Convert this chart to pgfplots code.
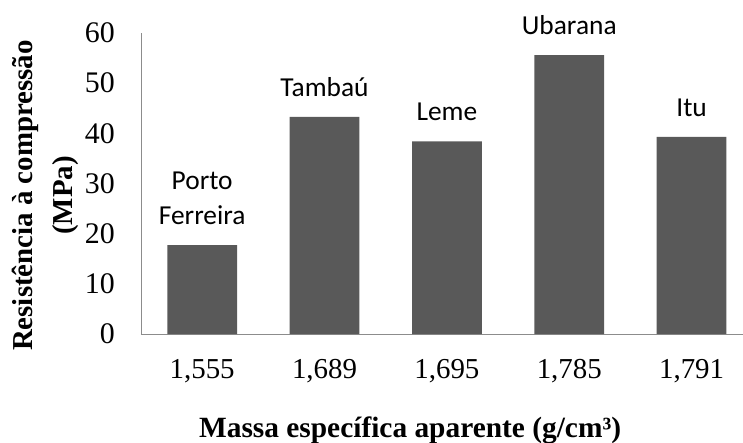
\documentclass[border=0pt]{standalone}
\usepackage{pgfplots}
\pgfplotsset{compat=1.18}
\usepackage{fontspec}
\setmainfont{Liberation Serif}
\newfontfamily\calib{Carlito}
\definecolor{barcol}{HTML}{595959}
\definecolor{axcol}{HTML}{8C8C8C}
\begin{document}
\begin{tikzpicture}
\useasboundingbox (-141bp,-109bp) rectangle (602bp,334bp);
\begin{axis}[
  at={(0,0)}, anchor=south west,
  scale only axis,
  width=602bp, height=301bp,
  xmin=-0.5, xmax=4.42,
  ymin=0, ymax=60,
  ytick={0,10,...,60},
  xtick={0,1,2,3,4},
  xticklabels={{1,555},{1,689},{1,695},{1,785},{1,791}},
  axis lines*=left,
  axis line style={draw=axcol, line width=0.8bp},
  major tick length=0pt,
  /pgf/number format/assume math mode=true,
  xticklabel style={font=\fontsize{29}{32}\selectfont, anchor=north, inner sep=0pt, yshift=-25bp},
  yticklabel style={font=\fontsize{30}{32}\selectfont, anchor=east, inner sep=0pt, xshift=-26bp},
  xlabel={Massa específica aparente (g/cm³)},
  xlabel style={font=\fontsize{29.5}{32}\selectfont\bfseries, at={(axis description cs:0.447,0)}, anchor=base, inner sep=0pt, yshift=-103bp},
  ylabel={Resistência à compressão\\(MPa)},
  ylabel style={font=\fontsize{29}{40}\selectfont\bfseries, align=center, at={(axis description cs:-0.1595,0.46)}, anchor=center, inner sep=0pt},
  ybar, bar width=0.57,
  nodes near coords,
  point meta=explicit symbolic,
  nodes near coords style={font=\calib\fontsize{27.5}{35}\selectfont, align=center, anchor=south, inner sep=0pt, yshift=20bp, text=black},
  clip=false,
]
\addplot[fill=barcol, draw=none] coordinates {
  (0,17.7) [{Porto\\Ferreira}]
  (1,43.3) [Tambaú]
  (2,38.4) [Leme]
  (3,55.6) [Ubarana]
  (4,39.3) [Itu]
};
\end{axis}
\end{tikzpicture}
\end{document}
